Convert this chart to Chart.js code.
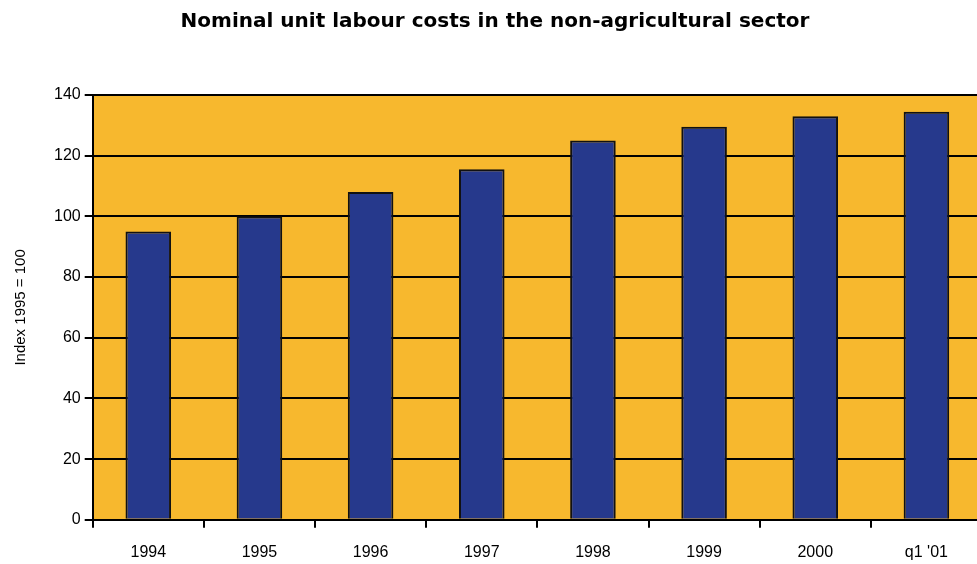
<!DOCTYPE html>
<html>
<head>
<meta charset="utf-8">
<script src="https://cdn.jsdelivr.net/npm/chart.js@4"></script>
<style>
  html, body { margin: 0; padding: 0; background: #fff; overflow: hidden; }
  #wrap { width: 982px; height: 577px; }
</style>
</head>
<body>
<div id="wrap"><canvas id="barChart"></canvas></div>
<script>
  // data
  const categories = ["1994", "1995", "1996", "1997", "1998", "1999", "2000", "q1 '01"];
  const labourCosts = [95, 100, 108, 115.5, 125, 129.5, 133, 134.5];
  const yTicks = [0, 20, 40, 60, 80, 100, 120, 140];

  // orange plot area behind the bars
  const plotBg = {
    id: "plotBg",
    beforeDraw(chart) {
      const a = chart.chartArea;
      const ctx = chart.ctx;
      ctx.save();
      ctx.fillStyle = "#F7B82E";
      ctx.fillRect(a.left, a.top, a.right - a.left, a.bottom - a.top);
      ctx.restore();
    },
  };

  const barCtx = document.getElementById("barChart").getContext("2d");
  new Chart(barCtx, {
    type: "bar",
    data: {
      labels: categories,
      datasets: [
        {
          label: "Nominal unit labour costs",
          backgroundColor: "#26398C",
          borderColor: "#111",
          borderWidth: 2,
          categoryPercentage: 1,
          barPercentage: 0.41,
          data: labourCosts,
        },
      ],
    },
    options: {
      responsive: true,
      maintainAspectRatio: false,
      animation: false,
      layout: { padding: { top: 0, right: 0, bottom: 0, left: 8 } },
      plugins: {
        legend: { display: false },
        tooltip: { enabled: false },
        title: {
          display: true,
          text: "Nominal unit labour costs in the non-agricultural sector",
          color: "#000",
          font: { family: "DejaVu Sans", size: 20, weight: "bold" },
          padding: { top: 10, bottom: 61 },
        },
      },
      scales: {
        x: {
          grid: {
            offset: true,
            drawOnChartArea: false,
            color: "#000",
            lineWidth: 2,
            tickLength: 8,
          },
          border: { color: "#000", width: 2 },
          ticks: {
            color: "#000",
            padding: 15,
            font: { family: "Liberation Sans", size: 16 },
          },
        },
        y: {
          min: 0,
          max: 140,
          afterBuildTicks(axis) {
            axis.ticks = yTicks.map((v) => ({ value: v }));
          },
          grid: { color: "#000", lineWidth: 2, tickLength: 8 },
          border: { color: "#000", width: 2 },
          ticks: {
            color: "#000",
            padding: 4,
            font: { family: "Liberation Sans", size: 16 },
          },
          title: {
            display: true,
            text: "Index 1995 = 100",
            color: "#000",
            padding: { bottom: 20 },
            font: { family: "Liberation Sans", size: 15 },
          },
        },
      },
    },
    plugins: [plotBg],
  });
</script>
</body>
</html>
